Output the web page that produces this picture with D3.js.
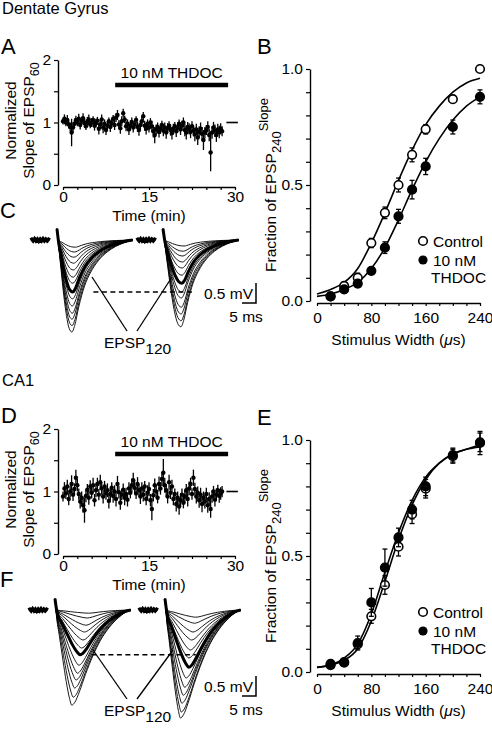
<!DOCTYPE html>
<html><head><meta charset="utf-8">
<script src="https://cdn.jsdelivr.net/npm/d3@7"></script>
<style>
body{margin:0;background:#fff}
svg text{font-family:"Liberation Sans",Arial,Helvetica,sans-serif;fill:#000}
</style>
</head><body>
<svg id="fig" width="492" height="730"></svg>
<script>
// ---------------- DATA ----------------
const timeStepMin = 0.25;
const dgSlope = [1.02,1.06,1.00,1.04,0.97,0.93,0.84,0.92,0.98,1.04,1.00,1.06,0.96,1.03,1.07,0.99,
 0.94,1.02,1.05,0.97,1.00,1.04,0.95,0.99,1.03,0.90,0.97,1.05,0.92,0.98,0.88,0.95,
 1.02,0.93,0.99,1.06,0.96,1.08,1.12,0.97,0.91,1.02,1.15,1.05,0.94,0.98,0.89,0.95,
 1.01,0.92,0.97,1.04,0.93,0.88,0.96,1.02,1.10,0.95,0.90,0.98,0.92,1.00,0.94,0.86,
 0.80,0.89,0.93,0.85,0.90,0.96,0.87,0.92,0.84,0.91,0.95,0.88,0.83,0.90,0.94,0.86,
 0.92,0.98,0.89,0.95,1.00,0.88,0.84,0.93,0.90,0.85,0.94,0.87,0.81,0.89,0.76,0.85,
 0.90,0.82,0.72,0.84,0.88,0.93,0.80,0.52,0.84,0.92,0.87,0.80,0.89,0.85,0.90,0.86];
const dgSlopeErr = [0.05,0.07,0.06,0.08,0.06,0.07,0.22,0.08,0.06,0.07,0.06,0.08,0.07,0.06,0.08,0.07,
 0.06,0.07,0.08,0.06,0.07,0.06,0.08,0.07,0.06,0.09,0.07,0.08,0.09,0.07,0.08,0.07,
 0.06,0.08,0.07,0.06,0.08,0.07,0.08,0.07,0.09,0.08,0.07,0.06,0.08,0.07,0.09,0.08,
 0.07,0.08,0.07,0.06,0.08,0.09,0.07,0.08,0.07,0.08,0.09,0.07,0.08,0.07,0.09,0.10,
 0.13,0.08,0.07,0.09,0.08,0.07,0.09,0.08,0.10,0.08,0.07,0.09,0.10,0.08,0.07,0.09,
 0.08,0.07,0.09,0.08,0.08,0.10,0.11,0.08,0.09,0.10,0.08,0.09,0.11,0.09,0.12,0.09,
 0.10,0.11,0.16,0.09,0.08,0.09,0.10,0.30,0.10,0.09,0.10,0.11,0.09,0.10,0.09,0.08];
const ca1Slope = [0.92,1.05,0.97,1.08,0.88,1.00,1.12,0.95,1.04,1.22,1.10,0.96,0.84,0.90,0.78,0.70,
 0.93,1.03,0.90,1.08,0.98,1.10,0.86,1.02,1.12,0.95,1.15,1.05,0.92,1.08,0.97,1.02,
 0.85,0.96,1.06,0.93,1.00,0.88,1.12,0.99,0.82,0.95,1.03,0.90,0.96,0.87,1.05,0.98,
 1.10,1.18,1.06,0.97,1.12,1.02,0.92,1.05,0.95,1.08,0.88,0.98,1.04,0.86,0.72,0.94,
 1.10,1.00,0.90,1.12,1.05,1.20,1.30,1.10,1.02,0.92,1.15,0.98,1.08,0.88,0.96,0.80,
 0.90,0.76,0.86,0.95,0.82,0.92,1.02,0.88,1.05,1.12,0.96,1.22,1.04,0.92,0.98,0.86,
 0.95,0.80,0.90,0.84,0.96,0.78,0.88,0.72,0.92,1.00,0.87,0.95,1.02,0.93,0.97,1.00];
const ca1SlopeErr = [0.08,0.10,0.09,0.11,0.10,0.09,0.14,0.10,0.09,0.13,0.10,0.09,0.11,0.10,0.12,0.20,
 0.10,0.09,0.11,0.10,0.09,0.12,0.10,0.11,0.10,0.09,0.12,0.10,0.11,0.09,0.10,0.11,
 0.12,0.10,0.09,0.11,0.10,0.12,0.13,0.10,0.11,0.09,0.10,0.12,0.10,0.11,0.10,0.09,
 0.11,0.12,0.10,0.09,0.11,0.10,0.12,0.10,0.11,0.09,0.10,0.12,0.11,0.10,0.18,0.10,
 0.11,0.10,0.09,0.12,0.10,0.11,0.22,0.12,0.10,0.11,0.12,0.10,0.11,0.10,0.09,0.12,
 0.10,0.13,0.11,0.10,0.09,0.11,0.10,0.12,0.11,0.10,0.09,0.13,0.10,0.11,0.10,0.12,
 0.11,0.13,0.10,0.11,0.10,0.12,0.11,0.14,0.10,0.09,0.11,0.10,0.09,0.11,0.10,0.09];
const timeTickVals = [0,2.5,5,7.5,10,12.5,15,17.5,20,22.5,25,27.5,30];
const timeTickLabels = [0,15,30];
const slopeTickVals = [0,0.5,1,1.5,2];
const slopeTickLabels = [0,1,2];
const drugText = "10 nM THDOC";
const drugPeriod = [9.1, 28.8];       // min
const refLineSpan = [28.5, 30.5];     // min, line at 1

const stimWidth = [20,40,60,80,100,120,140,160,200,240];
const dgCtrl     = [0.02,0.065,0.10,0.25,0.38,0.50,0.63,0.74,0.87,1.00];
const dgCtrlErr  = [0.01,0.015,0.02,0.02,0.025,0.03,0.03,0.02,0.015,0.01];
const dgThdoc    = [0.02,0.05,0.075,0.13,0.23,0.365,0.48,0.58,0.75,0.88];
const dgThdocErr = [0.01,0.015,0.015,0.015,0.025,0.03,0.04,0.035,0.03,0.03];
const ca1Ctrl     = [0.03,0.04,0.12,0.24,0.375,0.54,0.68,0.79,0.93,0.99];
const ca1CtrlErr  = [0.01,0.01,0.02,0.03,0.04,0.04,0.04,0.04,0.03,0.04];
const ca1Thdoc    = [0.035,0.043,0.125,0.30,0.45,0.58,0.70,0.80,0.935,0.987];
const ca1ThdocErr = [0.01,0.01,0.03,0.06,0.08,0.04,0.04,0.04,0.03,0.05];
const fitX = [0,20,40,60,80,100,120,140,160,180,200,220,240];
const dgCtrlFit   = [0.03,0.05,0.08,0.14,0.25,0.38,0.52,0.65,0.76,0.84,0.90,0.94,0.96];
const dgThdocFit  = [0.02,0.03,0.05,0.08,0.14,0.23,0.35,0.48,0.60,0.70,0.78,0.84,0.88];
const ca1CtrlFit  = [0.02,0.03,0.05,0.10,0.22,0.39,0.57,0.72,0.83,0.90,0.94,0.96,0.97];
const ca1ThdocFit = [0.02,0.03,0.06,0.12,0.25,0.43,0.60,0.74,0.84,0.90,0.94,0.96,0.98];
const stimTickVals = [0,20,40,60,80,100,120,140,160,180,200,220,240];
const stimTickLabels = [0,80,160,240];
const fracTickVals = [0,0.1,0.2,0.3,0.4,0.5,0.6,0.7,0.8,0.9,1.0];
const fracTickLabels = [0,0.5,1];

// EPSP traces: normalized waveform templates [ms, fraction of peak depth]
const dgTemplate  = [[0,0],[0.6,0.06],[1.5,0.32],[2.5,0.6],[3.5,0.82],[4.5,0.96],[5.5,1.0],[6.5,0.93],[8,0.72],[10,0.5],[12,0.36],[15,0.22],[18,0.13],[21,0.07],[24,0.03],[27,0.0]];
const ca1Template = [[0,0],[0.6,0.05],[2,0.28],[3.5,0.52],[5,0.75],[6.5,0.93],[7.5,1.0],[8.5,0.97],[10,0.86],[12,0.68],[14.5,0.48],[17,0.32],[20,0.18],[23,0.08],[25,0.03],[27,0.0]];
const artifactMv = 0.28;
const baseNoise = [0,0.02,-0.02,0.03,-0.02,0.02,-0.03,0.02,-0.02,0.03,-0.02,0.02,-0.02,0.02,0];
// peak depths (mV) and peak times (ms)
const dgCtrlDepths   = [0.18,0.3,0.43,0.58,0.75,0.93,1.08,1.47,1.65,1.83,1.98,2.14,2.3];
const dgCtrlPeaks    = [6.5,6.3,6.1,6,5.9,5.8,5.7,5.6,5.5,5.5,5.4,5.4,5.3];
const dgCtrl120      = [1.3, 5.6];
const dgThdocDepths  = [0.15,0.28,0.4,0.55,0.7,0.88,1.3,1.45,1.68,1.85,2.02,2.17];
const dgThdocPeaks   = [7.5,7.3,7.1,7,6.9,6.8,6.7,6.6,6.6,6.5,6.5,6.4];
const dgThdoc120     = [1.08, 6.8];
const ca1CtrlDepths  = [0.08,0.2,0.38,0.55,0.75,0.95,1.38,1.58,1.75,1.95,2.18,2.38];
const ca1CtrlPeaks   = [12,11.5,11,10.5,10,9.5,8.5,8,7.5,7,6.5,6];
const ca1Ctrl120     = [1.12, 9];
const ca1ThdocDepths = [0.18,0.33,0.55,0.75,1.0,1.2,1.7,1.93,2.13,2.33,2.55,2.7];
const ca1ThdocPeaks  = [11,10.5,10,9.5,9,8.5,7.5,7,6.5,6,5.8,5.5];
const ca1Thdoc120    = [1.43, 8.5];

// ---------------- DRAW ----------------
const svg = d3.select("#fig");
const FONT = '"Liberation Sans",Arial,Helvetica,sans-serif';
const FS = 15.5;

function styleAxis(g){
  g.attr("font-size",FS).attr("font-family",FONT);
  g.selectAll("path.domain").attr("stroke","#000").attr("stroke-width",1.4);
  g.selectAll(".tick line").attr("stroke","#000").attr("stroke-width",1.2);
  g.selectAll(".tick text").attr("fill","#000");
}
function txt(x,y,s,size,anchor){
  return svg.append("text").attr("x",x).attr("y",y).attr("font-size",size)
    .attr("text-anchor",anchor||"start").text(s);
}

// titles and panel letters
txt(2,14,"Dentate Gyrus",16.5);
txt(2,386,"CA1",16.5);
[["A",1,54],["B",257,54],["C",0,218],["D",1,423],["E",257,425],["F",0,587]]
  .forEach(([l,x,y])=>txt(x,y,l,22));

// ---- time course panels (A, D)
function timePanel(yOff, vals, errs){
  const x = d3.scaleLinear().domain([0,30]).range([63,235]);
  const y = d3.scaleLinear().domain([0,2]).range([185+yOff,60+yOff]);
  const g = svg.append("g");
  g.append("g").attr("transform","translate(58,0)")
    .call(d3.axisLeft(y).tickValues(slopeTickVals).tickSize(4).tickSizeOuter(0).tickPadding(3)
      .tickFormat(d=>slopeTickLabels.includes(d)?d:""))
    .call(styleAxis);
  g.append("g").attr("transform",`translate(0,${y(0)+2})`)
    .call(d3.axisBottom(x).tickValues(timeTickVals).tickSize(3).tickSizeOuter(0).tickPadding(1)
      .tickFormat(d=>timeTickLabels.includes(d)?d:""))
    .call(styleAxis);
  g.append("text").attr("x",(x(0)+x(30))/2).attr("y",y(0)+35.5).attr("font-size",FS)
    .attr("text-anchor","middle").text("Time (min)");
  // y label
  const cy = y(1)-2;
  g.append("text").attr("transform",`translate(16,${cy}) rotate(-90)`).attr("font-size",FS)
    .attr("text-anchor","middle").text("Normalized");
  const t2 = g.append("text").attr("transform",`translate(34,${cy}) rotate(-90)`).attr("font-size",FS)
    .attr("text-anchor","middle");
  t2.append("tspan").text("Slope of EPSP");
  t2.append("tspan").attr("dy",5).attr("font-size",12.5).text("60");
  // drug bar
  g.append("line").attr("x1",x(drugPeriod[0])).attr("x2",x(drugPeriod[1]))
    .attr("y1",y(1.6)).attr("y2",y(1.6)).attr("stroke","#000").attr("stroke-width",4.5);
  g.append("text").attr("x",(x(drugPeriod[0])+x(drugPeriod[1]))/2).attr("y",y(1.6)-7)
    .attr("font-size",FS).attr("text-anchor","middle").text(drugText);
  // reference line
  g.append("line").attr("x1",x(refLineSpan[0])).attr("x2",x(refLineSpan[1]))
    .attr("y1",y(1)).attr("y2",y(1)).attr("stroke","#000").attr("stroke-width",1.6);
  // data
  const pts = vals.map((v,i)=>({t:i*timeStepMin,v,e:errs[i]}));
  g.append("g").selectAll("line").data(pts).join("line")
    .attr("x1",d=>x(d.t)).attr("x2",d=>x(d.t))
    .attr("y1",d=>y(d.v-d.e)).attr("y2",d=>y(d.v+d.e))
    .attr("stroke","#000").attr("stroke-width",1.3);
  g.append("g").selectAll("circle").data(pts).join("circle")
    .attr("cx",d=>x(d.t)).attr("cy",d=>y(d.v)).attr("r",2.2).attr("fill","#000");
}
timePanel(0, dgSlope, dgSlopeErr);
timePanel(369, ca1Slope, ca1SlopeErr);

// ---- input-output panels (B, E)
function ioPanel(yOff, ctrl, ctrlErr, thd, thdErr, ctrlFit, thdFit){
  const x = d3.scaleLinear().domain([0,240]).range([317,480]);
  const y = d3.scaleLinear().domain([0,1]).range([301+yOff,69+yOff]);
  const g = svg.append("g");
  g.append("g").attr("transform","translate(310,0)")
    .call(d3.axisLeft(y).tickValues(fracTickVals).tickSize(4).tickSizeOuter(0).tickPadding(3)
      .tickFormat(d=>fracTickLabels.some(v=>Math.abs(v-d)<1e-9)?d3.format(".1f")(d):""))
    .call(styleAxis);
  g.append("g").attr("transform",`translate(0,${y(0)+2})`)
    .call(d3.axisBottom(x).tickValues(stimTickVals).tickSize(3).tickSizeOuter(0).tickPadding(6)
      .tickFormat(d=>stimTickLabels.includes(d)?d:""))
    .call(styleAxis);
  const xl = g.append("text").attr("x",(x(0)+x(240))/2).attr("y",y(0)+44).attr("font-size",FS)
    .attr("text-anchor","middle");
  xl.append("tspan").text("Stimulus Width (");
  xl.append("tspan").attr("font-style","italic").text("\u03bc");
  xl.append("tspan").text("s)");
  const yl = g.append("text").attr("transform",`translate(276,${y(0.5)}) rotate(-90)`)
    .attr("font-size",FS).attr("text-anchor","middle");
  yl.append("tspan").text("Fraction of EPSP");
  yl.append("tspan").attr("dy",5).attr("font-size",13).text("240");
  yl.append("tspan").attr("dy",-13).attr("font-size",13).text("Slope");
  // fits
  const line = d3.line().x((d,i)=>x(fitX[i])).y(d=>y(d)).curve(d3.curveMonotoneX);
  [ctrlFit,thdFit].forEach(f=>g.append("path").attr("d",line(f)).attr("fill","none")
    .attr("stroke","#000").attr("stroke-width",1.6));
  function series(vals, errs, filled){
    const pts = vals.map((v,i)=>({s:stimWidth[i],v,e:errs[i]}));
    const eg = g.append("g");
    pts.forEach(d=>{
      const x0=x(d.s);
      eg.append("line").attr("x1",x0).attr("x2",x0).attr("y1",y(d.v-d.e)).attr("y2",y(d.v+d.e))
        .attr("stroke","#000").attr("stroke-width",1.3);
      [d.v-d.e,d.v+d.e].forEach(v=>eg.append("line").attr("x1",x0-2.5).attr("x2",x0+2.5)
        .attr("y1",y(v)).attr("y2",y(v)).attr("stroke","#000").attr("stroke-width",1.3));
    });
    g.append("g").selectAll("circle").data(pts).join("circle")
      .attr("cx",d=>x(d.s)).attr("cy",d=>y(d.v)).attr("r",4.3)
      .attr("fill",filled?"#000":"#fff").attr("stroke","#000").attr("stroke-width",1.6);
  }
  series(ctrl, ctrlErr, false);
  series(thd, thdErr, true);
  // legend
  const ly = 241+yOff;
  g.append("circle").attr("cx",423).attr("cy",ly).attr("r",4.3).attr("fill","#fff")
    .attr("stroke","#000").attr("stroke-width",1.6);
  g.append("text").attr("x",433).attr("y",ly+5.5).attr("font-size",FS).text("Control");
  g.append("circle").attr("cx",423).attr("cy",ly+19).attr("r",4.6).attr("fill","#000");
  g.append("text").attr("x",433).attr("y",ly+24.5).attr("font-size",FS).text("10 nM");
  g.append("text").attr("x",431).attr("y",ly+42).attr("font-size",FS).text("THDOC");
}
ioPanel(0, dgCtrl, dgCtrlErr, dgThdoc, dgThdocErr, dgCtrlFit, dgThdocFit);
ioPanel(371, ca1Ctrl, ca1CtrlErr, ca1Thdoc, ca1ThdocErr, ca1CtrlFit, ca1ThdocFit);

// ---- trace panels (C, F)
const pxPerMs = 2.8, pxPerMv = 40;
function traceGroup(g, onsetPx, baseY, template, depths, peaks, bold){
  const x = d3.scaleLinear().domain([0,27]).range([onsetPx, onsetPx+27*pxPerMs]);
  const y = d3.scaleLinear().domain([0,1]).range([baseY, baseY-pxPerMv]);
  const tpT = template.reduce((a,b)=>b[1]>a[1]?b:a)[0];
  const warp = (t,tp)=> t<=tpT ? t*tp/tpT : tp+(t-tpT)*(27-tp)/(27-tpT);
  const line = d3.line().x(d=>x(d[0])).y(d=>y(d[1])).curve(d3.curveMonotoneX);
  const mk = (depth,tp)=>[[0,artifactMv]].concat(template.slice(1).map(([t,v])=>[warp(t,tp),-depth*v]));
  // pre-stimulus baseline
  const bx = baseNoise.map((v,i)=>[-9.5+i*0.5, v]);
  g.append("path").attr("d",d3.line().x(d=>x(d[0])).y(d=>y(d[1]))(bx))
    .attr("fill","none").attr("stroke","#000").attr("stroke-width",3.6);
  depths.forEach((dp,i)=>g.append("path").attr("d",line(mk(dp,peaks[i])))
    .attr("fill","none").attr("stroke","#000").attr("stroke-width",0.9));
  g.append("path").attr("d",line(mk(bold[0],bold[1])))
    .attr("fill","none").attr("stroke","#000").attr("stroke-width",3);
  return {x,y};
}
function tracePanel(baseY, leftOnset, rightOnset, tmpl, dL, pL, bL, dR, pR, bR, barTop, lblY, lineTop){
  const g = svg.append("g");
  const L = traceGroup(g, leftOnset, baseY, tmpl, dL, pL, bL);
  const R = traceGroup(g, rightOnset, baseY, tmpl, dR, pR, bR);
  // dashed line at EPSP120 control peak
  g.append("line").attr("x1",L.x(13)).attr("x2",R.x(11)).attr("y1",L.y(-bL[0])).attr("y2",L.y(-bL[0]))
    .attr("stroke","#000").attr("stroke-width",1.5).attr("stroke-dasharray","5,3.5");
  // label and connectors
  const lb = g.append("text").attr("x",104).attr("y",lblY).attr("font-size",FS);
  lb.append("tspan").text("EPSP");
  lb.append("tspan").attr("dy",6).attr("font-size",FS).text("120");
  g.append("line").attr("x1",127).attr("y1",lblY-17).attr("x2",lineTop[0]).attr("y2",lineTop[2])
    .attr("stroke","#000").attr("stroke-width",1.3);
  g.append("line").attr("x1",137).attr("y1",lblY-17).attr("x2",lineTop[1]).attr("y2",lineTop[2])
    .attr("stroke","#000").attr("stroke-width",1.3);
  // scale bars
  const bx = 256, by = barTop + (L.y(0)-L.y(0.5));
  g.append("path").attr("d",`M${bx},${barTop}V${by}H${bx-(L.x(5)-L.x(0))}`)
    .attr("fill","none").attr("stroke","#000").attr("stroke-width",1.5);
  g.append("text").attr("x",bx-3).attr("y",by-4).attr("font-size",FS).attr("text-anchor","end").text("0.5 mV");
  g.append("text").attr("x",bx-10).attr("y",by+19).attr("font-size",FS).attr("text-anchor","middle").text("5 ms");
}
tracePanel(240, 57, 163, dgTemplate, dgCtrlDepths, dgCtrlPeaks, dgCtrl120,
  dgThdocDepths, dgThdocPeaks, dgThdoc120, 283, 348, [92,172,277]);
tracePanel(610, 55, 165, ca1Template, ca1CtrlDepths, ca1CtrlPeaks, ca1Ctrl120,
  ca1ThdocDepths, ca1ThdocPeaks, ca1Thdoc120, 676, 716, [93,173,650]);
</script>
</body></html>
